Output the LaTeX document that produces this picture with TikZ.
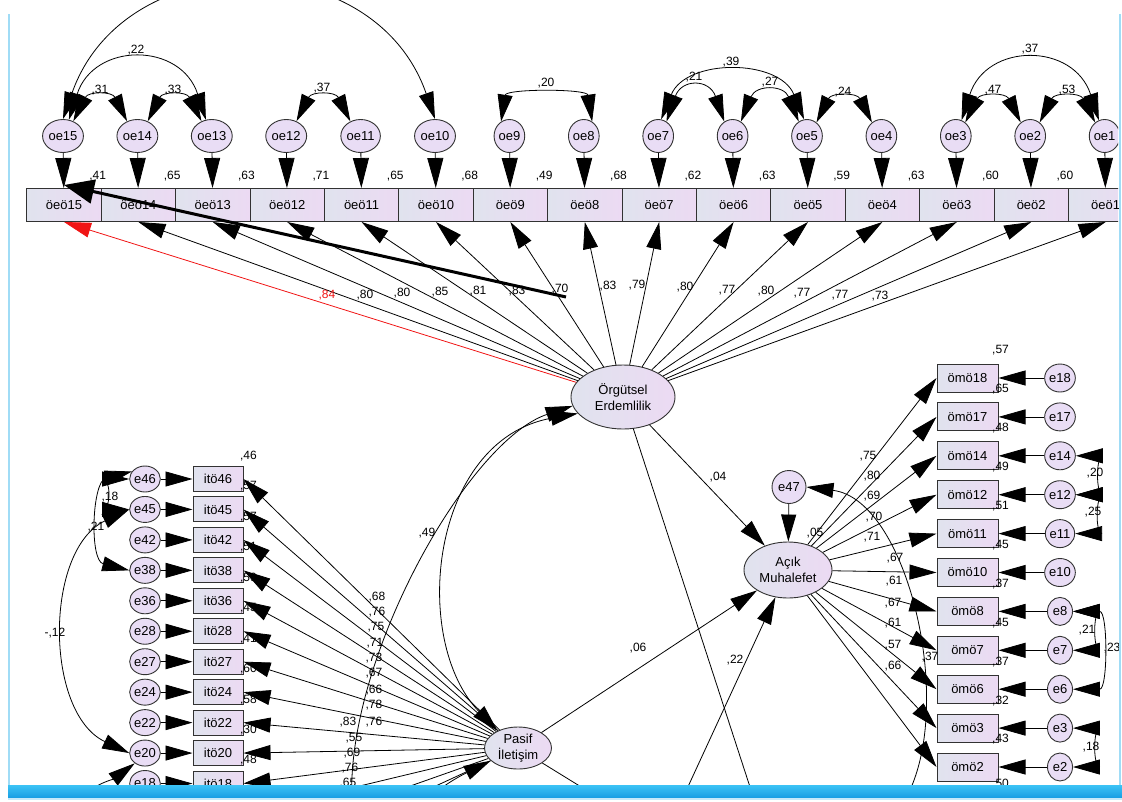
\documentclass[tikz,border=0pt]{standalone}
\usepackage{fontspec}
\setmainfont{Liberation Sans}
\usetikzlibrary{arrows.meta,shapes.geometric}
\definecolor{boxL}{RGB}{224,227,238}
\definecolor{boxR}{RGB}{236,218,243}
\definecolor{errF}{RGB}{233,221,245}
\definecolor{edgeC}{RGB}{50,50,50}
\definecolor{frameC}{RGB}{160,220,246}
\definecolor{barTop}{RGB}{60,195,245}
\definecolor{barBot}{RGB}{25,160,228}
\definecolor{redC}{RGB}{240,20,20}
\tikzset{
  Tri/.tip={Triangle[length=27pt,width=15pt]},
  BigTri/.tip={Triangle[length=30pt,width=16pt]},
  obs/.style={rectangle,draw=edgeC,line width=1pt,left color=boxL,right color=boxR,inner sep=0pt,font=\fontsize{13}{15}\selectfont},
  err/.style={ellipse,draw=edgeC,line width=0.9pt,fill=errF,inner sep=0pt,font=\fontsize{13}{15}\selectfont},
  lat/.style={ellipse,draw=edgeC,line width=0.9pt,left color=boxL,right color=boxR,inner sep=0pt,align=center,font=\fontsize{13}{16}\selectfont},
  lab/.style={inner sep=0pt,font=\fontsize{12}{14}\selectfont},
  arr/.style={-Tri,line width=0.8pt},
  cov/.style={Tri-Tri,line width=0.8pt},
}
\begin{document}
\begin{tikzpicture}[x=1pt,y=-1pt]
\useasboundingbox (0,0) rectangle (1122,801);
\begin{scope}
\clip (10,0) rectangle (1118,787);

% ---------- top row ----------
\foreach \n [count=\k from 0] in {15,14,...,1}{
  \node[obs,minimum width=74.4pt,minimum height=33pt] (b\n) at ({64+74.4*\k},205) {öeö\n};
  \node[err,minimum width=30pt,minimum height=33pt] (oe\n) at ({63+74.4*\k},136) {oe\n};
  \draw[-BigTri,line width=0.8pt] (oe\n) -- (b\n);
}
\foreach \n/\r in {15/41,14/65,13/63,12/71,11/65,10/68,9/49,8/68,7/62,6/63,5/59,4/63,3/60,2/60}{
  \node[lab] at ([xshift=-4pt,yshift=11.5pt]b\n.north east) {,\r};
}

% top covariances
\draw[cov] (oe15.55) .. controls +(15,-30) and +(-15,-30) .. (oe14.125);
\draw[cov] (oe14.55) .. controls +(15,-30) and +(-15,-30) .. (oe13.125);
\draw[cov] (oe15.70) .. controls +(25,-78) and +(-25,-78) .. (oe13.110);
\draw[cov] (oe15.north) .. controls (124,-57) and (374,-57) .. (oe10.north);
\draw[cov] (oe12.55) .. controls +(15,-30) and +(-15,-30) .. (oe11.125);
\draw[cov] (oe9.120) .. controls +(5,-33) and +(-5,-33) .. (oe8.60);
\draw[cov] (oe7.60) .. controls +(15,-43) and +(-15,-43) .. (oe6.120);
\draw[cov] (oe7.80) .. controls +(25,-61) and +(-25,-61) .. (oe5.100);
\draw[cov] (oe6.60) .. controls +(15,-37) and +(-15,-37) .. (oe5.120);
\draw[cov] (oe5.55) .. controls +(15,-30) and +(-15,-30) .. (oe4.125);
\draw[cov] (oe3.55) .. controls +(15,-30) and +(-15,-30) .. (oe2.125);
\draw[cov] (oe2.55) .. controls +(15,-30) and +(-15,-30) .. (oe1.125);
\draw[cov] (oe3.70) .. controls +(25,-78) and +(-25,-78) .. (oe1.110);
\node[lab] at (100,90) {,31};
\node[lab] at (173,90) {,33};
\node[lab] at (136,50) {,22};
\node[lab] at (322,88) {,37};
\node[lab] at (546,83) {,20};
\node[lab] at (694,77) {,21};
\node[lab] at (731,62) {,39};
\node[lab] at (770,82) {,27};
\node[lab] at (843,92) {,24};
\node[lab] at (993,90) {,47};
\node[lab] at (1067,90) {,53};
\node[lab] at (1030,49) {,37};

% ---------- Örgütsel Erdemlilik ----------
\node[lat,minimum width=104pt,minimum height=64pt] (OE) at (623,397) {Örgütsel\\Erdemlilik};
\draw[arr,redC] (OE) -- (b15.south);
\foreach \n in {14,...,1}{\draw[arr] (OE) -- (b\n.south);}
\node[lab,text=redC] at (327,295) {,84};
\foreach \x/\y/\v in {365/295/80,402/293/80,440/292/85,478/291/81,517/291/83,560/289/70,608/286/83,637/285/79,685/287/80,727/290/77,766/291/80,802/293/77,840/295/77,880/296/73}{
  \node[lab] at (\x,\y) {,\v};
}

% ---------- Açık Muhalefet ----------
\node[lat,minimum width=88pt,minimum height=56pt] (AM) at (788,570) {Açık\\Muhalefet};
\node[err,minimum width=34pt,minimum height=33pt] (e47) at (789,487) {e47};
\draw[arr] (e47) -- (AM);
\node[lab] at (815,533) {,05};
\foreach \n/\r [count=\k from 0] in {18/57,17/65,14/48,12/49,11/51,10/45,8/37,7/45,6/37,3/32,2/43}{
  \node[obs,minimum width=61pt,minimum height=28pt] (m\n) at (967.5,{378+38.9*\k}) {ömö\n};
  \node[err,minimum width=25pt,minimum height=28pt] (r\n) at (1060,{378+38.9*\k}) {e\n};
  \draw[arr] (r\n) -- (m\n);
  \draw[arr] (AM) -- (m\n.west);
  \node[lab] at ([xshift=2pt,yshift=13pt]m\n.north east) {,\r};
}
\node[lab] at ([xshift=2pt,yshift=-3pt]m2.south east) {,50};
\foreach \x/\y/\v in {868/456/75,872/476/80,872/496/69,874/517/70,872/537/71,895/558/67,894/581/61,893/603/67,893/623/61,893/645/57,893/666/66}{
  \node[lab] at (\x,\y) {,\v};
}
\draw[cov] (r14.east) .. controls +(20,0) and +(20,0) .. (r12.east);
\draw[cov] (r12.east) .. controls +(20,0) and +(20,0) .. (r11.east);
\draw[cov] (r8.east) .. controls +(20,0) and +(20,0) .. (r7.east);
\draw[cov] (r8.east) .. controls +(35,0) and +(35,0) .. (r6.east);
\draw[cov] (r3.east) .. controls +(20,0) and +(20,0) .. (r2.east);
\node[lab] at (1095,473) {,20};
\node[lab] at (1093,512) {,25};
\node[lab] at (1087,630) {,21};
\node[lab] at (1112,648) {,23};
\node[lab] at (1091,747) {,18};
\coordinate (u1) at (885,830);
\draw[cov] (e47.east) .. controls (910,500) and (960,720) .. (u1);
\node[lab] at (930,657) {,37};

% ---------- Pasif İletişim ----------
\node[lat,minimum width=67pt,minimum height=42pt] (PI) at (518,748) {Pasif\\İletişim};
\foreach \n/\r [count=\k from 0] in {46/46,45/57,42/57,38/51,36/59,28/45,27/41,24/60,22/58,20/30,18/48}{
  \node[obs,minimum width=50pt,minimum height=25pt] (i\n) at (218,{479+30.45*\k}) {itö\n};
  \node[err,minimum width=23pt,minimum height=26pt] (l\n) at (145,{479+30.45*\k}) {e\n};
  \draw[arr] (l\n) -- (i\n);
  \draw[arr] (PI) -- (i\n.east);
  \node[lab] at ([xshift=5pt,yshift=10pt]i\n.north east) {,\r};
}
\coordinate (h1) at (243,814);
\coordinate (h2) at (243,845);
\coordinate (h3) at (243,875);
\draw[arr] (PI) -- (h1);
\draw[arr] (PI) -- (h2);
\draw[arr] (PI) -- (h3);
\foreach \x/\y/\v in {377/597/68,377/612/76,376/627/75,375/643/71,374/658/73,374/673/67,374/690/66,374/705/78,374/722/76,348/722/83,354/738/55,352/753/69,350/768/76,348/783/65}{
  \node[lab] at (\x,\y) {,\v};
}
\draw[cov] (l46.west) .. controls +(-18,0) and +(-18,0) .. (l45.west);
\draw[cov] (l46.150) .. controls +(-40,10) and +(-40,-10) .. (l38.west);
\draw[cov] (l45.west) .. controls +(-85,40) and +(-85,-40) .. (l20.west);
\coordinate (u2) at (90,815);
\draw[cov] (u2) .. controls +(5,-30) and +(-20,15) .. (l20.225);
\node[lab] at (110,497) {,18};
\node[lab] at (96,527) {,21};
\node[lab] at (55,633) {-,12};

% ---------- structural part ----------
\draw[arr] (OE) -- (AM);
\draw[arr] (PI) -- (AM);
\coordinate (u3) at (352,820);
\draw[cov] (OE.190) .. controls (470,440) and (350,650) .. (u3);
\draw[cov] (OE.200) .. controls (430,440) and (410,640) .. (PI.140);
\coordinate (u4) at (430,830);
\draw[cov] (u4) .. controls +(0,-40) and +(-20,10) .. (PI.205);
\coordinate (u5) at (764,830);
\draw[arr] (OE) -- (u5);
\coordinate (u6) at (668,830);
\draw[arr] (u6) -- (AM);
\coordinate (u7) at (651,830);
\draw[arr] (PI) -- (u7);
\node[lab] at (718,477) {,04};
\node[lab] at (638,648) {,06};
\node[lab] at (735,660) {,22};
\node[lab] at (427,533) {,49};

% overlay arrow
\coordinate (ovs) at (566,297);
\coordinate (ove) at (64,185);
\draw[line width=3pt,-{Triangle[length=30pt,width=24pt]}] (ovs) -- (ove);
\end{scope}

% frame
\draw[frameC,line width=2.5pt] (9,14) -- (9,788);
\draw[frameC,line width=2.5pt] (1120,14) -- (1120,788);
\fill[frameC!60] (8,797) rectangle (1122,800);
\shade[top color=barTop,bottom color=barBot] (8,785) rectangle (1122,797);
\end{tikzpicture}
\end{document}
